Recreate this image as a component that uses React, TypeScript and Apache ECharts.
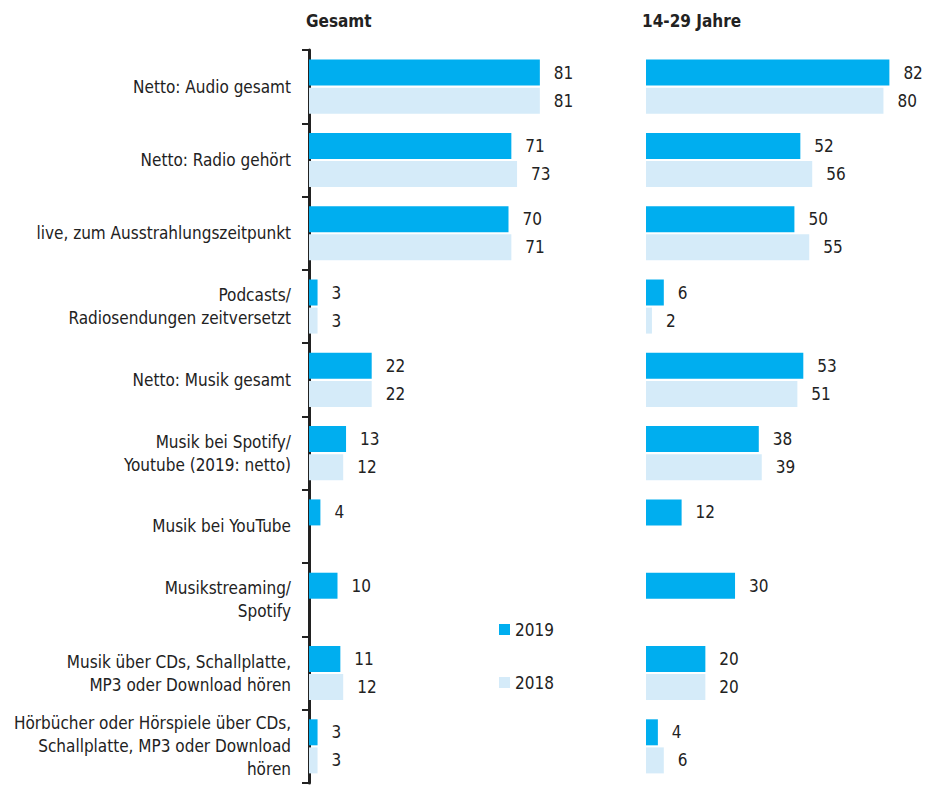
import React, { useEffect, useRef } from "react";
import * as echarts from "echarts";

const categories = [
  "Netto: Audio gesamt",
  "Netto: Radio gehört",
  "live, zum Ausstrahlungszeitpunkt",
  "Podcasts/\nRadiosendungen zeitversetzt",
  "Netto: Musik gesamt",
  "Musik bei Spotify/\nYoutube (2019: netto)",
  "Musik bei YouTube",
  "Musikstreaming/\nSpotify",
  "Musik über CDs, Schallplatte,\nMP3 oder Download hören",
  "Hörbücher oder Hörspiele über CDs,\nSchallplatte, MP3 oder Download\nhören",
];
const gesamt2019 = [81, 71, 70, 3, 22, 13, 4, 10, 11, 3];
const gesamt2018 = [81, 73, 71, 3, 22, 12, null, null, 12, 3];
const jung2019 = [82, 52, 50, 6, 53, 38, 12, 30, 20, 4];
const jung2018 = [80, 56, 55, 2, 51, 39, null, null, 20, 6];
const panelTitles = ["Gesamt", "14-29 Jahre"];
const seriesNames = ["2019", "2018"];

const C2019 = "#00aeef";
const C2018 = "#d5ebf9";
const FONT = "'Liberation Sans Narrow', 'DejaVu Sans Condensed', 'Arial Narrow', sans-serif";
const TXT = "#222222";

export default function App() {
  const ref = useRef<HTMLDivElement>(null);
  useEffect(() => {
    document.body.style.margin = "0";
    const chart = echarts.init(ref.current!, null, { renderer: "svg" });
    const label = {
      show: true,
      position: "right" as const,
      distance: 14,
      color: TXT,
      fontSize: 17,
      fontFamily: FONT,
    };
    const barCommon = { type: "bar" as const, barWidth: 26, barGap: "8%", label };
    chart.setOption({
      animation: false,
      backgroundColor: "#ffffff",
      textStyle: { fontFamily: FONT },
      title: [
        {
          text: panelTitles[0],
          left: 306,
          top: 12,
          padding: 0,
          textStyle: { fontFamily: FONT, fontSize: 17, fontWeight: "bold", color: TXT },
        },
        {
          text: panelTitles[1],
          left: 642,
          top: 12,
          padding: 0,
          textStyle: { fontFamily: FONT, fontSize: 17, fontWeight: "bold", color: TXT },
        },
      ],
      legend: {
        data: seriesNames,
        orient: "vertical",
        left: 494,
        top: 616,
        itemGap: 36,
        itemWidth: 11,
        itemHeight: 11,
        icon: "rect",
        textStyle: { fontFamily: FONT, fontSize: 17, color: TXT },
      },
      grid: [
        { left: 309, top: 50, width: 285, height: 733 },
        { left: 646, top: 50, width: 279, height: 733 },
      ],
      xAxis: [
        { gridIndex: 0, type: "value", min: 0, max: 100, show: false },
        { gridIndex: 1, type: "value", min: 0, max: 94, show: false },
      ],
      yAxis: [
        {
          gridIndex: 0,
          type: "category",
          data: categories,
          inverse: true,
          axisLine: { show: true, lineStyle: { color: TXT, width: 3 } },
          axisTick: { show: true, length: 7, lineStyle: { color: TXT, width: 2 } },
          axisLabel: {
            margin: 18,
            fontSize: 17,
            fontFamily: FONT,
            color: TXT,
            lineHeight: 23,
            align: "right",
          },
          splitLine: { show: false },
        },
        {
          gridIndex: 1,
          type: "category",
          data: categories,
          inverse: true,
          show: false,
        },
      ],
      series: [
        { ...barCommon, name: seriesNames[0], xAxisIndex: 0, yAxisIndex: 0, data: gesamt2019, itemStyle: { color: C2019 } },
        { ...barCommon, name: seriesNames[1], xAxisIndex: 0, yAxisIndex: 0, data: gesamt2018, itemStyle: { color: C2018 } },
        { ...barCommon, name: seriesNames[0], xAxisIndex: 1, yAxisIndex: 1, data: jung2019, itemStyle: { color: C2019 } },
        { ...barCommon, name: seriesNames[1], xAxisIndex: 1, yAxisIndex: 1, data: jung2018, itemStyle: { color: C2018 } },
      ],
    });
    return () => chart.dispose();
  }, []);
  return <div ref={ref} style={{ width: 925, height: 785 }} />;
}
